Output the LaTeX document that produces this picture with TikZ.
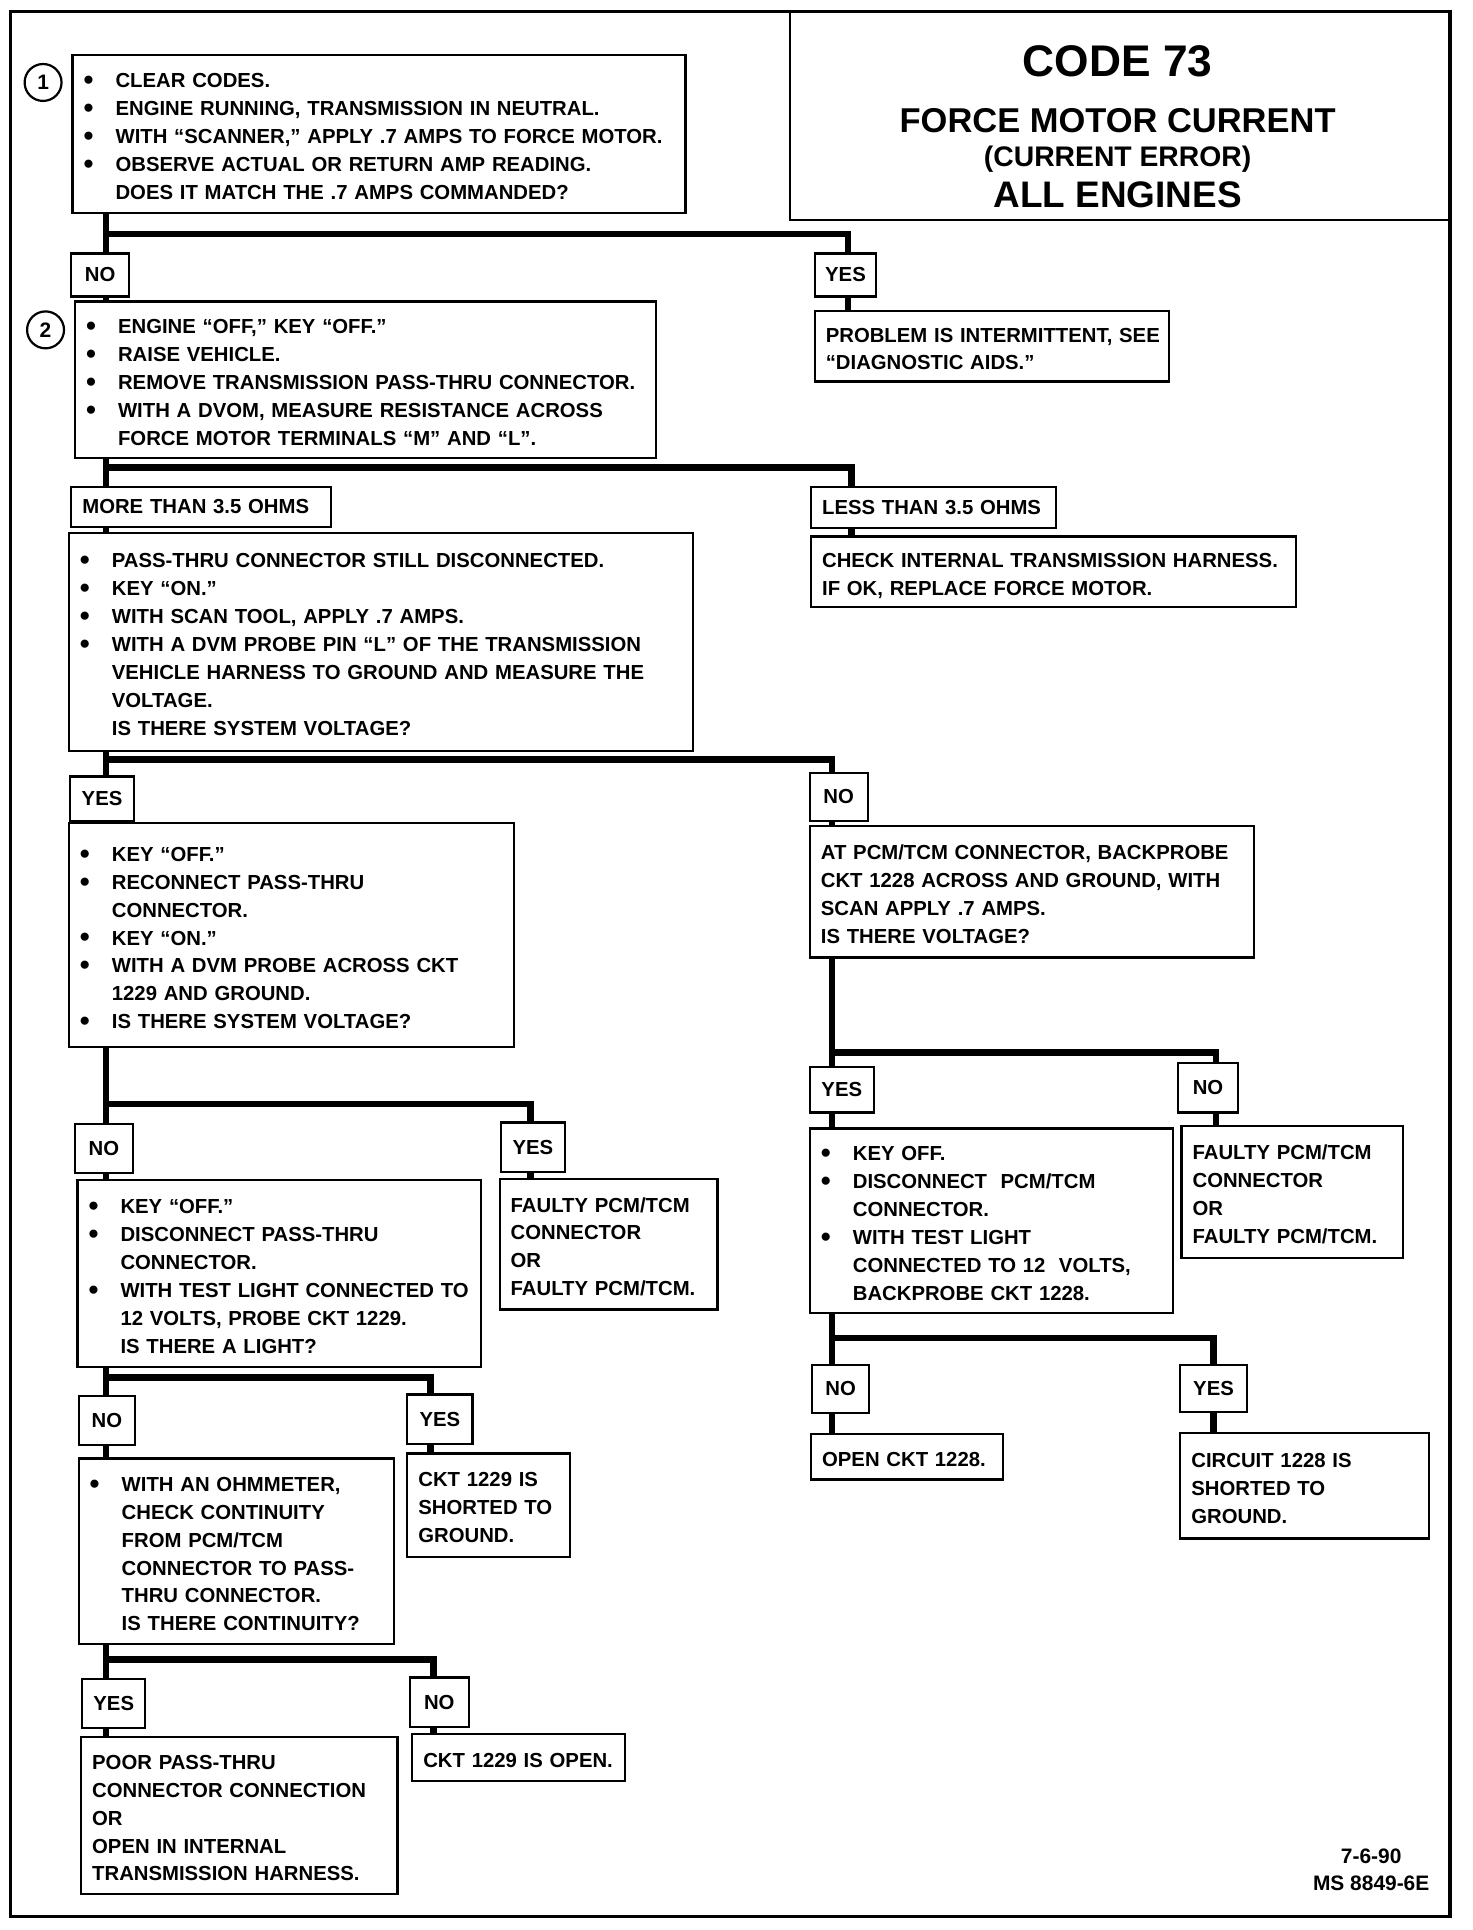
\documentclass[tikz,border=0pt]{standalone}
\usepackage{fontspec}
\setmainfont{Liberation Sans}
\usepackage{tikz}
\newcommand{\bodyfont}{\fontsize{16.5}{22.7}\selectfont\bfseries}
\newcommand{\bul}{\makebox[26pt][l]{\raisebox{-1.6pt}{\fontsize{23}{23}\selectfont\textbullet}}}
\newcommand{\ind}{\hspace*{26pt}}
\newcommand{\boxtext}[1]{\begin{tabular}{@{}l@{}}\rule{0pt}{22.5pt}\ignorespaces#1\end{tabular}}
\tikzset{
  qbox/.style={draw,line width=1.8pt,anchor=north west,inner xsep=9pt,inner ysep=0pt,align=left,font=\bodyfont},
  ans/.style={draw,line width=1.8pt,anchor=north west,inner sep=0pt,font=\bodyfont},
  num/.style={circle,draw,line width=1.8pt,minimum size=30pt,inner sep=0pt,font=\fontsize{17}{17}\selectfont\bfseries},
  flow/.style={line width=5.4pt}
}

\begin{document}
\begin{tikzpicture}[x=1pt,y=-1pt]
  \useasboundingbox (0,0) rectangle (1196,1568);
  \draw[line width=2.6pt] (8.5,9.5) rectangle (1178,1557);
  \draw[line width=1.8pt] (641.5,9.5) |- (1178,178.5);
  \node[anchor=north,inner sep=0pt,text width=520pt] (ttl) at (908,36.5)
    {\centering\spaceskip=0pt\xspaceskip=0pt
     {\fontsize{36}{36}\selectfont\bfseries CODE 73\par}
     {\fontsize{28}{46.1}\selectfont\bfseries FORCE MOTOR CURRENT\par}
     {\fontsize{23}{27.1}\selectfont\bfseries (CURRENT ERROR)\par}
     {\fontsize{30}{33.8}\selectfont\bfseries ALL ENGINES\par}};
  % steps
  \node[num] (n1) at (35,67) {1};
  \node[num] (n2) at (37,268) {2};
  \node[qbox,text width=480pt,minimum height=128pt] (q1) at (58,44) {\boxtext{
    \bul CLEAR CODES.\\
    \bul ENGINE RUNNING, TRANSMISSION IN NEUTRAL.\\
    \bul WITH “SCANNER,” APPLY .7 AMPS TO FORCE MOTOR.\\
    \bul OBSERVE ACTUAL OR RETURN AMP READING.\\
    \ind DOES IT MATCH THE .7 AMPS COMMANDED?}};
  \node[qbox,text width=454pt,minimum height=127pt] (q2) at (60,244) {\boxtext{
    \bul ENGINE “OFF,” KEY “OFF.”\\
    \bul RAISE VEHICLE.\\
    \bul REMOVE TRANSMISSION PASS-THRU CONNECTOR.\\
    \bul WITH A DVOM, MEASURE RESISTANCE ACROSS\\
    \ind FORCE MOTOR TERMINALS “M” AND “L”.}};
  \node[qbox,text width=270pt,minimum height=57pt] (res1) at (661,252) {\boxtext{
    PROBLEM IS INTERMITTENT, SEE\\ “DIAGNOSTIC AIDS.”}};
  \node[qbox,text width=489pt,minimum height=177pt] (q3) at (55,432) {\boxtext{
    \bul PASS-THRU CONNECTOR STILL DISCONNECTED.\\
    \bul KEY “ON.”\\
    \bul WITH SCAN TOOL, APPLY .7 AMPS.\\
    \bul WITH A DVM PROBE PIN “L” OF THE TRANSMISSION\\
    \ind VEHICLE HARNESS TO GROUND AND MEASURE THE\\
    \ind VOLTAGE.\\
    \ind IS THERE SYSTEM VOLTAGE?}};
  \node[qbox,text width=376pt,minimum height=57pt] (res2) at (658,435) {\boxtext{
    CHECK INTERNAL TRANSMISSION HARNESS.\\ IF OK, REPLACE FORCE MOTOR.}};
  \node[qbox,text width=344pt,minimum height=182pt] (q4) at (55,668) {\boxtext{
    \bul KEY “OFF.”\\
    \bul RECONNECT PASS-THRU\\
    \ind CONNECTOR.\\
    \bul KEY “ON.”\\
    \bul WITH A DVM PROBE ACROSS CKT\\
    \ind 1229 AND GROUND.\\
    \bul IS THERE SYSTEM VOLTAGE?}};
  \node[qbox,text width=343pt,minimum height=107pt] (q5) at (657,670) {\boxtext{
    AT PCM/TCM CONNECTOR, BACKPROBE\\
    CKT 1228 ACROSS AND GROUND, WITH\\
    SCAN APPLY .7 AMPS.\\
    IS THERE VOLTAGE?}};
  \node[qbox,text width=277pt,minimum height=150pt] (q6) at (657,916) {\boxtext{
    \bul KEY OFF.\\
    \bul DISCONNECT\ \ PCM/TCM\\
    \ind CONNECTOR.\\
    \bul WITH TEST LIGHT\\
    \ind CONNECTED TO 12\ \ VOLTS,\\
    \ind BACKPROBE CKT 1228.}};
  \node[qbox,text width=162pt,minimum height=107pt] (faultyR) at (959,914) {\boxtext{
    FAULTY PCM/TCM\\ CONNECTOR\\ OR\\ FAULTY PCM/TCM.}};
  \node[qbox,text width=138pt,minimum height=37pt] (openR) at (658,1164) {\boxtext{OPEN CKT 1228.}};
  \node[qbox,text width=184pt,minimum height=86pt] (circR) at (958,1163) {\boxtext{
    CIRCUIT 1228 IS\\ SHORTED TO\\ GROUND.}};
  \node[qbox,text width=310pt,minimum height=152pt] (q7) at (62,958) {\boxtext{
    \bul KEY “OFF.”\\
    \bul DISCONNECT PASS-THRU\\
    \ind CONNECTOR.\\
    \bul WITH TEST LIGHT CONNECTED TO\\
    \ind 12 VOLTS, PROBE CKT 1229.\\
    \ind IS THERE A LIGHT?}};
  \node[qbox,text width=159pt,minimum height=106pt] (faultyL) at (405,957) {\boxtext{
    FAULTY PCM/TCM\\ CONNECTOR\\ OR\\ FAULTY PCM/TCM.}};
  \node[qbox,text width=238pt,minimum height=151pt] (q8) at (63,1184) {\boxtext{
    \bul WITH AN OHMMETER,\\
    \ind CHECK CONTINUITY\\
    \ind FROM PCM/TCM\\
    \ind CONNECTOR TO PASS-\\
    \ind THRU CONNECTOR.\\
    \ind IS THERE CONTINUITY?}};
  \node[qbox,text width=114pt,minimum height=84pt] (shortL) at (330,1180) {\boxtext{
    CKT 1229 IS\\ SHORTED TO\\ GROUND.}};
  \node[qbox,text width=239pt,minimum height=128pt] (poor) at (65,1410) {\boxtext{
    POOR PASS-THRU\\ CONNECTOR CONNECTION\\ OR\\ OPEN IN INTERNAL\\ TRANSMISSION HARNESS.}};
  \node[qbox,text width=155pt,minimum height=38pt] (openL) at (334,1408) {\boxtext{CKT 1229 IS OPEN.}};
  % answers
  \foreach \n/\x/\y/\w/\h/\t in {no1/57/205/47/35/NO, yes1/661/205/50/35/YES,
      yes3/56/630/52/36/YES, no3/657/627/47/39/NO, yesR/657/866/52/37/YES, noR/956/863/49/40/NO,
      noR2/659/1108/46/39/NO, yesR2/958/1108/54/38/YES, noL/60/912/47/40/NO, yesL/406/911/52/40/YES,
      noL2/63/1133/46/40/NO, yesL2/330/1132/53/40/YES, yesL3/66/1363/51/40/YES, noL3/332/1362/48/40/NO}
    \node[ans,minimum width=\w pt,minimum height=\h pt] (\n) at (\x,\y) {\t};
  \node[qbox,text width=193pt,minimum height=32pt] (more) at (57,395) {MORE THAN 3.5 OHMS};
  \node[qbox,text width=181pt,minimum height=33pt] (less) at (658,395) {LESS THAN 3.5 OHMS};
  % branches
  \foreach \q/\lx/\jy/\kx/\a/\b/\ra/\rb in {q1/86/190/689/no1/yes1/q2/res1,
      q2/86/380/692/more/less/q3/res2, q3/86/617/676/yes3/no3/q4/q5,
      q5/676/855/988/yesR/noR/q6/faultyR, q6/676/1087/986/noR2/yesR2/openR/circR,
      q4/86/897/431/noL/yesL/q7/faultyL, q7/86/1119/350/noL2/yesL2/q8/shortL,
      q8/86/1348/352/yesL3/noL3/poor/openL} {
    \coordinate (jl) at (\lx,\jy);
    \coordinate (jr) at (\kx,\jy);
    \draw[flow] (\q.south -| jl) -- (\a.north -| jl);
    \draw[flow] (jl) -- (jr) -- (\b.north -| jr);
    \draw[flow] (\a.south -| jl) -- (\ra.north -| jl);
    \draw[flow] (\b.south -| jr) -- (\rb.north -| jr);
  }
  \node[align=center,anchor=north,inner sep=0pt,font=\fontsize{17}{22}\selectfont\bfseries] (msno) at (1114,1502) {7-6-90\\MS 8849-6E};
\end{tikzpicture}
\end{document}
